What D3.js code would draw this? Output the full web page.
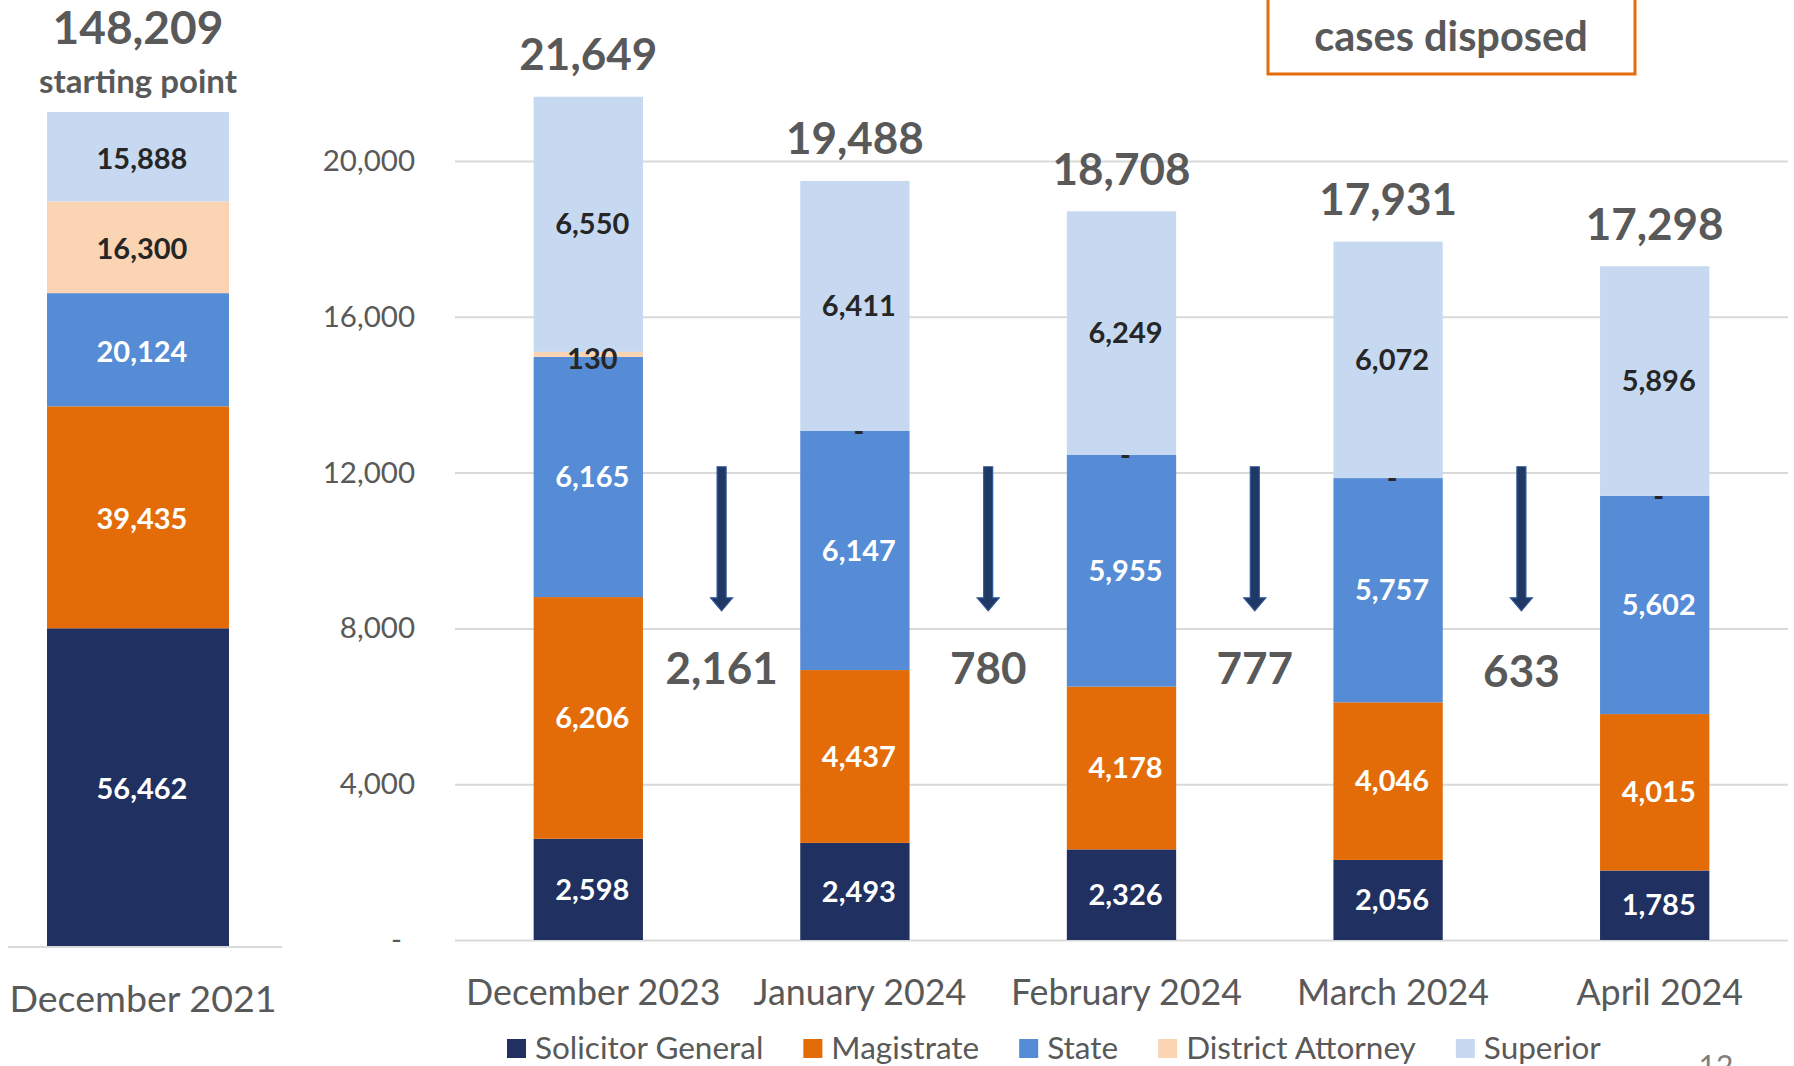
<!DOCTYPE html>
<html>
<head>
<meta charset="utf-8">
<script src="https://cdn.jsdelivr.net/npm/d3@7"></script>
<style>
  body { margin: 0; background: #fff; }
  svg { display: block; font-family: Lato, "Open Sans", sans-serif; }
</style>
</head>
<body>
<svg id="chart" width="1794" height="1066"></svg>
<script>
// data
const months = ["December 2023", "January 2024", "February 2024", "March 2024", "April 2024"];
const seriesNames = ["Solicitor General", "Magistrate", "State", "District Attorney", "Superior"];
const solicitorGeneral = [2598, 2493, 2326, 2056, 1785];
const magistrate = [6206, 4437, 4178, 4046, 4015];
const state = [6165, 6147, 5955, 5757, 5602];
const districtAttorney = [130, 0, 0, 0, 0];
const superior = [6550, 6411, 6249, 6072, 5896];
const startMonth = "December 2021";
const startValues = [56462, 39435, 20124, 16300, 15888];
const yTicks = [0, 4000, 8000, 12000, 16000, 20000];

const colors = ["#203060", "#E36C09", "#558CD5", "#FBD4B4", "#C6D9F1"];
const labelColors = ["#fff", "#fff", "#fff", "#262626", "#262626"];
const grey = "#595959";
const fmt = d3.format(",");

const svg = d3.select("#chart");

// ---------- main chart ----------
let table = months.map((m, i) => ({
    month: m,
    "Solicitor General": solicitorGeneral[i],
    "Magistrate": magistrate[i],
    "State": state[i],
    "District Attorney": districtAttorney[i],
    "Superior": superior[i]
}));
let stacked = d3.stack().keys(seriesNames)(table);
let totals = table.map(d => d3.sum(seriesNames, k => d[k]));

let x = d3.scaleBand()
    .domain(months)
    .range([455, 1788])
    .paddingInner(0.59)
    .paddingOuter(0.295);
let y = d3.scaleLinear()
    .domain([0, 20000])
    .range([940, 161]);

// gridlines
let grid = d3.axisLeft(y).tickValues(yTicks).tickSize(-(1788 - 455)).tickFormat("");
svg.append("g")
    .attr("transform", "translate(455,0)")
    .call(grid)
    .call(g => g.select(".domain").remove())
    .selectAll("line")
    .attr("stroke", "#D9D9D9")
    .attr("stroke-width", 2);

// y labels
let yAxis = d3.axisLeft(y).tickValues(yTicks).tickSize(0).tickPadding(40)
    .tickFormat(d => d === 0 ? "-" : fmt(d));
svg.append("g")
    .attr("transform", "translate(455,0)")
    .call(yAxis)
    .call(g => g.select(".domain").remove())
    .selectAll("text")
    .attr("font-family", "Lato")
    .attr("font-size", 29.5)
    .attr("fill", grey)
    .attr("dx", d => d === 0 ? -13 : 0);

// bars
let layers = svg.append("g").selectAll("g")
    .data(stacked)
    .enter().append("g")
    .attr("fill", (d, i) => colors[i]);
layers.selectAll("rect")
    .data(d => d)
    .enter().append("rect")
    .attr("x", d => x(d.data.month))
    .attr("width", x.bandwidth())
    .attr("y", d => y(d[1]))
    .attr("height", d => y(d[0]) - y(d[1]));

// segment labels
stacked.forEach((layer, li) => {
    svg.append("g").selectAll("text")
        .data(layer)
        .enter().append("text")
        .attr("x", d => x(d.data.month) + x.bandwidth() / 2 + 4)
        .attr("y", d => (y(d[0]) + y(d[1])) / 2 + (li === 3 && d[1] - d[0] > 0 ? 4 : 0))
        .attr("dy", "0.35em")
        .attr("text-anchor", "middle")
        .attr("font-size", 29)
        .attr("font-weight", "bold")
        .attr("fill", labelColors[li])
        .text(d => (d[1] - d[0]) === 0 ? "-" : fmt(d[1] - d[0]));
});

// totals above bars
svg.append("g").selectAll("text")
    .data(months)
    .enter().append("text")
    .attr("x", m => x(m) + x.bandwidth() / 2)
    .attr("y", (m, i) => y(totals[i]) - 42)
    .attr("dy", "0.35em")
    .attr("text-anchor", "middle")
    .attr("font-size", 44)
    .attr("font-weight", "bold")
    .attr("fill", grey)
    .text((m, i) => fmt(totals[i]));

// arrows + drop between months
let drops = totals.slice(1).map((t, i) => ({ from: months[i], value: totals[i] - t }));
let arrowTop = 12150, arrowTip = 8450, dropLabelAt = 6960;
let ag = svg.append("g").selectAll("g")
    .data(drops)
    .enter().append("g")
    .attr("transform", d => `translate(${x(d.from) + x.bandwidth() / 2 + x.step() / 2},0)`);
ag.append("path")
    .attr("d", () => {
        let t = y(arrowTop), b = y(arrowTip), h = 13;
        return `M-4.5,${t}L4.5,${t}L4.5,${b - h}L11,${b - h}L0,${b}L-11,${b - h}L-4.5,${b - h}Z`;
    })
    .attr("fill", "#1F3864")
    .attr("stroke", "#2F5597")
    .attr("stroke-width", 1.2);
ag.append("text")
    .attr("y", (d, i) => y(dropLabelAt) + (i === 3 ? 3 : 0))
    .attr("dy", "0.35em")
    .attr("text-anchor", "middle")
    .attr("font-size", 44)
    .attr("font-weight", "bold")
    .attr("fill", grey)
    .text(d => fmt(d.value));

// category labels
svg.append("g").selectAll("text")
    .data(months)
    .enter().append("text")
    .attr("x", m => x(m) + x.bandwidth() / 2 + 5)
    .attr("y", 992)
    .attr("dy", "0.35em")
    .attr("text-anchor", "middle")
    .attr("font-size", 35.8)
    .attr("fill", grey)
    .text(m => m);

// ---------- starting point bar ----------
let startTotal = d3.sum(startValues);
let xl = d3.scaleBand().domain([startMonth]).range([47, 229]);
let yl = d3.scaleLinear().domain([0, startTotal]).range([946, 112]);
let startRow = { month: startMonth };
seriesNames.forEach((k, i) => startRow[k] = startValues[i]);
let startStack = d3.stack().keys(seriesNames)([startRow]);

svg.append("line")
    .attr("x1", 8).attr("x2", 282)
    .attr("y1", 947).attr("y2", 947)
    .attr("stroke", "#D9D9D9").attr("stroke-width", 2);

startStack.forEach((layer, li) => {
    let d = layer[0];
    svg.append("rect")
        .attr("x", xl(startMonth))
        .attr("width", xl.bandwidth())
        .attr("y", yl(d[1]))
        .attr("height", yl(d[0]) - yl(d[1]))
        .attr("fill", colors[li]);
    svg.append("text")
        .attr("x", xl(startMonth) + xl.bandwidth() / 2 + 4)
        .attr("y", (yl(d[0]) + yl(d[1])) / 2 + 2)
        .attr("dy", "0.35em")
        .attr("text-anchor", "middle")
        .attr("font-size", 29)
        .attr("font-weight", "bold")
        .attr("fill", labelColors[li])
        .text(fmt(d[1] - d[0]));
});

svg.append("text")
    .attr("x", 138).attr("y", 28).attr("dy", "0.35em")
    .attr("text-anchor", "middle")
    .attr("font-size", 46).attr("font-weight", "bold").attr("fill", grey)
    .text(fmt(startTotal));
svg.append("text")
    .attr("x", 138).attr("y", 93)
    .attr("text-anchor", "middle")
    .attr("font-size", 33).attr("font-weight", "bold").attr("fill", grey)
    .text("starting point");
svg.append("text")
    .attr("x", xl(startMonth) + xl.bandwidth() / 2 + 5).attr("y", 999).attr("dy", "0.35em")
    .attr("text-anchor", "middle")
    .attr("font-size", 37.6).attr("fill", grey)
    .text(startMonth);

// ---------- call-out box (top cut off) ----------
svg.append("rect")
    .attr("x", 1268).attr("y", -20)
    .attr("width", 367).attr("height", 94)
    .attr("fill", "none").attr("stroke", "#E46C0A").attr("stroke-width", 3);
svg.append("text")
    .attr("x", 1451).attr("y", 36).attr("dy", "0.35em")
    .attr("text-anchor", "middle")
    .attr("font-size", 41.5).attr("font-weight", "bold").attr("fill", grey)
    .text("cases disposed");

// ---------- legend ----------
let legend = svg.append("g");
let lx = 507;
seriesNames.forEach((name, i) => {
    legend.append("rect")
        .attr("x", lx).attr("y", 1039)
        .attr("width", 19).attr("height", 19)
        .attr("fill", colors[i]);
    let t = legend.append("text")
        .attr("x", lx + 28).attr("y", 1048).attr("dy", "0.35em")
        .attr("font-size", 31.5).attr("fill", grey)
        .text(name);
    lx += 28 + t.node().getComputedTextLength() + 40;
});

// page number, cut off at the bottom
svg.append("text")
    .attr("x", 1716).attr("y", 1077)
    .attr("text-anchor", "middle")
    .attr("font-size", 30).attr("fill", "#7F7F7F")
    .text("12");
</script>
</body>
</html>
